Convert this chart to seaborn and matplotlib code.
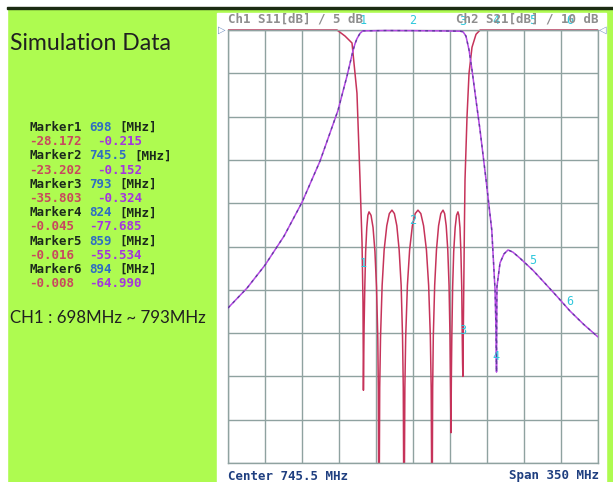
import numpy as np
import pandas as pd
import matplotlib
matplotlib.use('Agg')
import matplotlib.pyplot as plt
import seaborn as sns
from matplotlib.patches import Rectangle

# ---- data ----
center_mhz = 745.5
span_mhz = 350

s11_freq = [570.5, 673.6, 681.2, 687.8, 692.5, 695.3, 697.3, 698.2, 698.6,
            698.9, 699.2, 699.9, 700.7, 701.8, 702.8, 703.9, 705.8, 707.7, 709.5, 711.0, 712.2, 712.7, 713.3,
            714.0, 714.8, 716.3, 718.2, 720.7, 723.1, 725.6, 727.9, 730.2, 732.4, 734.3, 735.6, 736.3, 737.0,
            737.8, 738.6, 740.2, 742.3, 744.9, 747.6, 750.2, 752.9, 755.5, 758.2, 760.3, 761.9, 762.7, 763.5,
            764.1, 764.7, 766.0, 767.7, 769.7, 771.8, 773.9, 775.4, 776.9, 778.4, 779.6, 780.5, 781.0, 781.4,
            781.8, 782.2, 783.0, 784.0, 785.4, 786.7, 788.0, 788.9, 789.9, 790.8, 791.6, 792.1, 792.4, 792.7,
            793.0, 793.5, 794.2, 794.7, 796.6, 798.5, 801.3, 805.1, 809.0, 920.5]
s11_db = [0, 0, -0.7, -1.5, -7.3, -17.0, -24.6, -31.5, -41.6,
          -38.0, -34.5, -29.7, -25.6, -22.8, -21.4, -21.0, -21.4, -22.8, -25.6, -29.7, -35.6, -41.5, -60,
          -41.3, -35.4, -29.5, -25.4, -22.6, -21.2, -20.8, -21.2, -22.6, -25.4, -29.5, -35.4, -41.3, -60,
          -41.3, -35.4, -29.5, -25.4, -22.6, -21.2, -20.8, -21.2, -22.6, -25.4, -29.5, -35.4, -41.3, -60,
          -41.3, -35.4, -29.5, -25.4, -22.6, -21.2, -20.8, -21.2, -22.6, -25.4, -29.5, -35.4, -41.3, -46.5,
          -40.0, -35.6, -29.7, -25.6, -22.8, -21.4, -21.0, -21.4, -22.8, -25.6, -29.7, -35.6, -38.5, -40.0,
          -36.0, -30.0, -22.0, -17.3, -10.0, -5.0, -2.0, -0.5, 0, 0]

s21_freq = [570.5, 588.5, 605.5, 623.5, 640.5, 657.5, 674.5, 683.1, 686.0, 688.7, 690.6, 692.5,
            695.3, 698.0, 720.0, 745.5, 770.0, 790.0, 792.8, 795.6, 798.5, 801.3, 805.1, 808.9,
            814.6, 820.0, 823.1, 824.0, 824.5, 824.9, 827.8, 831.6, 835.4, 840.0, 846.7, 859.0,
            870.0, 882.0, 894.0, 907.0, 920.5]
s21_db = [-64.2, -59.6, -54.3, -47.6, -39.8, -30.3, -18.6, -10.6, -7.6, -4.8, -3.2, -2.0,
          -0.8, -0.2, -0.12, -0.15, -0.2, -0.28, -0.4, -1.4, -4.6, -9.2, -16.2, -23.1,
          -34.6, -46.2, -60.0, -69.0, -79.0, -59.3, -53.8, -51.7, -50.8, -51.3, -52.7, -55.5,
          -58.4, -61.6, -64.9, -68.0, -70.9]

marker_freq = [698, 745.5, 793, 824, 859, 894]
marker_s11 = [-28.172, -23.202, -35.803, -0.045, -0.016, -0.008]
marker_s21 = [-0.215, -0.152, -0.324, -77.685, -55.534, -64.990]

# ---- colours ----
GREEN = '#aefb50'
GRIDC = '#8fa2a0'
S11C = '#c6335a'
S21C = '#b548e4'
CYAN = '#2ec8dc'
MONO = 'DejaVu Sans Mono'

sns.set_style('white')
plt.rcParams['font.family'] = ['Lato', 'DejaVu Sans']

W, H = 613, 482
fig = plt.figure(figsize=(W / 100, H / 100), dpi=100, facecolor=GREEN)


def fx(px):
    return px / W


def fy(py):
    return 1 - py / H


# frame pieces of the screenshot (kept under the axes)
frame = [
    ((0, fy(7)), 1, 7 / H, 'white'),
    ((0, 0), fx(7), 1, 'white'),
    ((fx(7), fy(9)), 1, 2 / H, '#1b2b12'),
    ((fx(217), 0), (606 - 217) / W, fy(13), 'white'),
]
for xy, w, h, c in frame:
    fig.patches.append(Rectangle(xy, w, h, transform=fig.transFigure, color=c, zorder=-5))

# ---- analyser grid ----
lo, hi = center_mhz - span_mhz / 2, center_mhz + span_mhz / 2
ax = fig.add_axes([fx(228), fy(463), (598 - 228) / W, (463 - 30) / H])
ax.patch.set_alpha(0)

s11 = pd.DataFrame({'freq': s11_freq, 'db': s11_db})
s21 = pd.DataFrame({'freq': s21_freq, 'db': s21_db})

sns.lineplot(data=s11, x='freq', y='db', ax=ax, color=S11C, lw=1.1, estimator=None, sort=False)
ax.set_xlim(lo, hi)
ax.set_ylim(-50, 0)
ax.set_xticks(np.linspace(lo, hi, 11))
ax.set_yticks(np.linspace(-50, 0, 11))
ax.grid(True, color=GRIDC, lw=1.0)
ax.tick_params(length=0, labelbottom=False, labelleft=False)
ax.set_xlabel('')
ax.set_ylabel('')
for sp in ax.spines.values():
    sp.set_color(GRIDC)
    sp.set_linewidth(1.0)

ax2 = ax.twinx()
sns.lineplot(data=s21, x='freq', y='db', ax=ax2, color=S21C, lw=1.1, estimator=None, sort=False)
sns.lineplot(data=s21, x='freq', y='db', ax=ax2, color='#4a3a8c', lw=1.0, alpha=0.8,
             estimator=None, sort=False, linestyle=(0, (2, 3)))
ax2.set_xlim(lo, hi)
ax2.set_ylim(-100, 0)
ax2.set_ylabel('')
ax2.tick_params(length=0, labelright=False)
for sp in ax2.spines.values():
    sp.set_visible(False)

# let the 0 dB traces show fully on the top line
for a in (ax, ax2):
    clip = Rectangle((0, 0), 1, 1.01, transform=a.transAxes)
    for ln in a.lines:
        ln.set_clip_path(clip)

# marker numbers on both traces
for i, (f, a, b) in enumerate(zip(marker_freq, marker_s11, marker_s21)):
    for axis, v in ((ax, a), (ax2, b)):
        axis.annotate(str(i + 1), (f, v), xytext=(0, 7.2), textcoords='offset points',
                      ha='center', va='center', color=CYAN, fontsize=8.5, family=MONO,
                      annotation_clip=False, zorder=10)

# screen header / footer
fig.text(fx(228), fy(19), 'Ch1 S11[dB] / 5 dB', color='#8e8e8e', family=MONO, fontsize=9,
         fontweight='bold', va='center', ha='left')
fig.text(fx(599), fy(19), 'Ch2 S21[dB] / 10 dB', color='#8e8e8e', family=MONO, fontsize=9,
         fontweight='bold', va='center', ha='right')
fig.text(fx(222), fy(30), '▷', color='#6f8fc0', family='DejaVu Sans', fontsize=7, va='center', ha='center')
fig.text(fx(603), fy(30), '◁', color='#6f8fc0', family='DejaVu Sans', fontsize=7, va='center', ha='center')
fig.text(fx(228), fy(476), f'Center {center_mhz:g} MHz', color='#1f3f80', family=MONO, fontsize=9,
         fontweight='bold', va='center', ha='left')
fig.text(fx(599), fy(476), f'Span {span_mhz:g} MHz', color='#1f3f80', family=MONO, fontsize=9,
         fontweight='bold', va='center', ha='right')

# ---- left side notes ----
fig.text(fx(10), fy(43), 'Simulation Data', color='#202020', fontsize=16.6, va='center', ha='left')
fig.text(fx(10), fy(318), 'CH1 : 698MHz ~ 793MHz', color='#202020', fontsize=12.2, va='center', ha='left')

CW = 7.52  # px per char of the readout font
y0, step = 127.5, 14.2
for i, (f, a, b) in enumerate(zip(marker_freq, marker_s11, marker_s21)):
    y1 = y0 + 2 * i * step
    y2 = y1 + step
    name = f'Marker{i + 1}'
    fs = f'{f:g}'
    kw = dict(family=MONO, fontsize=9, fontweight='bold', va='center', ha='left')
    fig.text(fx(29), fy(y1), name, color='#1c2a1c', **kw)
    fig.text(fx(29 + (len(name) + 1) * CW), fy(y1), fs, color='#2f6cc4', **kw)
    fig.text(fx(29 + (len(name) + len(fs) + 2) * CW), fy(y1), '[MHz]', color='#1c2a1c', **kw)
    sa, sb = f'{a:.3f}', f'{b:.3f}'
    fig.text(fx(29), fy(y2), sa, color='#c8485e', **kw)
    fig.text(fx(29 + (len(sa) + 2) * CW), fy(y2), sb, color='#a434e0', **kw)

plt.savefig('out.png', dpi=100, facecolor=GREEN)
